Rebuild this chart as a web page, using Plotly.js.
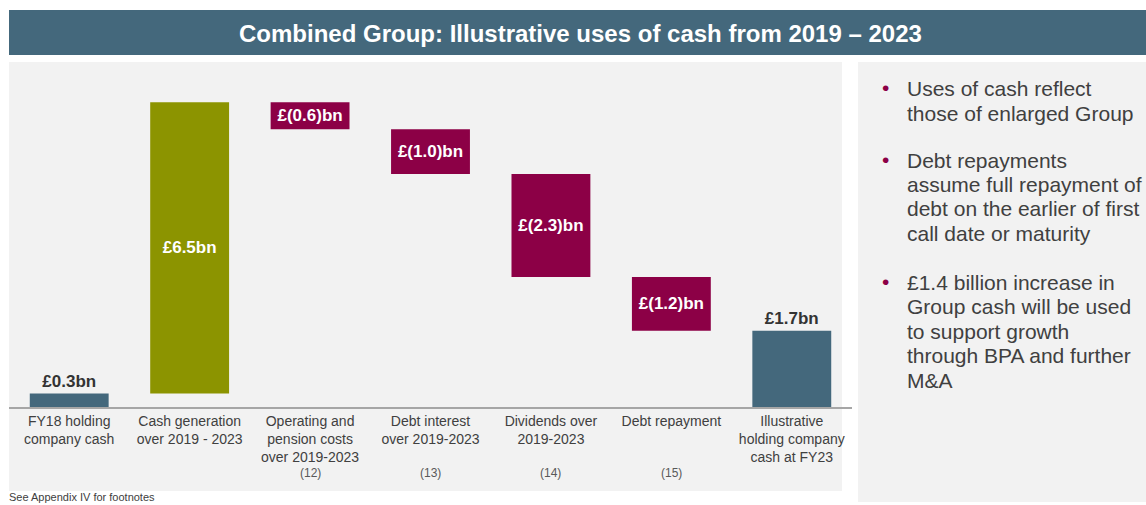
<!DOCTYPE html>
<html>
<head>
<meta charset="utf-8">
<script src="https://cdn.plot.ly/plotly-3.0.1.min.js"></script>
<style>
html,body{margin:0;padding:0;background:#fff;}
#chart{width:1146px;height:505px;}
</style>
</head>
<body>
<div id="chart"></div>
<script>
// ---- Data ----
const categories = [
  "FY18 holding<br>company cash",
  "Cash generation<br>over 2019 - 2023",
  "Operating and<br>pension costs<br>over 2019-2023",
  "Debt interest<br>over 2019-2023",
  "Dividends over<br>2019-2023",
  "Debt repayment",
  "Illustrative<br>holding company<br>cash at FY23"
];
const values = [0.3, 6.5, -0.6, -1.0, -2.3, -1.2, 1.7];
const measures = ["absolute", "relative", "relative", "relative", "relative", "relative", "total"];
const valueLabels = ["£0.3bn", "£6.5bn", "£(0.6)bn", "£(1.0)bn", "£(2.3)bn", "£(1.2)bn", "£1.7bn"];
const footnotes = ["", "", "(12)", "(13)", "(14)", "(15)", ""];
const chartTitle = "Combined Group: Illustrative uses of cash from 2019 – 2023";
const bullets = [
  ["Uses of cash reflect", "those of enlarged Group"],
  ["Debt repayments", "assume full repayment of", "debt on the earlier of first", "call date or maturity"],
  ["£1.4 billion increase in", "Group cash will be used", "to support growth", "through BPA and further", "M&A"]
];
const footer = "See Appendix IV for footnotes";

// ---- Layout helpers (pixel -> paper) ----
const W = 1146, H = 505;
const px = v => v / W;
const py = v => 1 - v / H;
const FONT = "Liberation Sans, Arial, sans-serif";
const SLATE = "#44687c", OLIVE = "#8c9400", MAROON = "#8c0046";

const xIdx = categories.map((_, i) => i);

const trace = {
  type: "waterfall",
  x: xIdx,
  y: values,
  measure: measures,
  text: valueLabels.map(t => "<b>" + t + "</b>"),
  textposition: ["outside", "inside", "inside", "inside", "inside", "inside", "outside"],
  insidetextanchor: "middle",
  constraintext: "none",
  insidetextfont: {family: FONT, size: 17, color: "#ffffff"},
  outsidetextfont: {family: FONT, size: 17, color: "#333333"},
  increasing: {marker: {color: OLIVE}},
  decreasing: {marker: {color: MAROON}},
  totals: {marker: {color: SLATE}},
  connector: {visible: false},
  hoverinfo: "skip",
  cliponaxis: false
};

const shapes = [
  {type: "rect", xref: "paper", yref: "paper", x0: px(9), x1: px(1146), y0: py(55), y1: py(10), fillcolor: SLATE, line: {width: 0}, layer: "below"},
  {type: "rect", xref: "paper", yref: "paper", x0: px(9), x1: px(842), y0: py(491), y1: py(62), fillcolor: "#f2f2f2", line: {width: 0}, layer: "below"},
  {type: "rect", xref: "paper", yref: "paper", x0: px(858), x1: px(1146), y0: py(502), y1: py(62), fillcolor: "#f2f2f2", line: {width: 0}, layer: "below"}
];

const annotations = [];
annotations.push({
  xref: "paper", yref: "paper", x: px(580), y: py(33), xanchor: "center", yanchor: "middle",
  text: "<b>" + chartTitle + "</b>", showarrow: false,
  font: {family: FONT, size: 24, color: "#ffffff"}
});

// footnote refs under categories
footnotes.forEach((f, i) => {
  if (!f) return;
  annotations.push({
    xref: "x", yref: "paper", x: i, y: py(473), xanchor: "center", yanchor: "middle",
    text: f, showarrow: false, font: {family: FONT, size: 12, color: "#595959"}
  });
});

// bullets
const bulletStarts = [89, 160, 282];
const lineGap = 24.5;
bullets.forEach((lines, b) => {
  annotations.push({
    xref: "paper", yref: "paper", x: px(885), y: py(bulletStarts[b] - 1), xanchor: "center", yanchor: "middle",
    text: "•", showarrow: false, font: {family: FONT, size: 21, color: MAROON}
  });
  lines.forEach((ln, k) => {
    annotations.push({
      xref: "paper", yref: "paper", x: px(905), y: py(bulletStarts[b] + k * lineGap), xanchor: "left", yanchor: "middle",
      text: ln, showarrow: false, font: {family: FONT, size: 21, color: "#404040"}
    });
  });
});

annotations.push({
  xref: "paper", yref: "paper", x: px(7), y: py(505), xanchor: "left", yanchor: "bottom",
  text: footer, showarrow: false, font: {family: FONT, size: 11, color: "#404040"}
});

const layout = {
  width: W, height: H,
  margin: {l: 0, r: 0, t: 0, b: 0, pad: 0},
  paper_bgcolor: "#ffffff",
  plot_bgcolor: "rgba(0,0,0,0)",
  showlegend: false,
  waterfallgap: 0.345,
  xaxis: {
    domain: [px(9), px(852)],
    range: [-0.5, 6.5],
    tickvals: xIdx,
    ticktext: categories,
    tickfont: {family: FONT, size: 14, color: "#404040"},
    showline: true, linecolor: "#a6a6a6", linewidth: 2,
    showgrid: false, zeroline: false, ticks: "",
    fixedrange: true, automargin: false
  },
  yaxis: {
    domain: [98 / H, (H - 93.4) / H],
    range: [0, 7],
    visible: false, fixedrange: true
  },
  shapes: shapes,
  annotations: annotations
};

Plotly.newPlot("chart", [trace], layout, {displayModeBar: false, staticPlot: true});
</script>
</body>
</html>
